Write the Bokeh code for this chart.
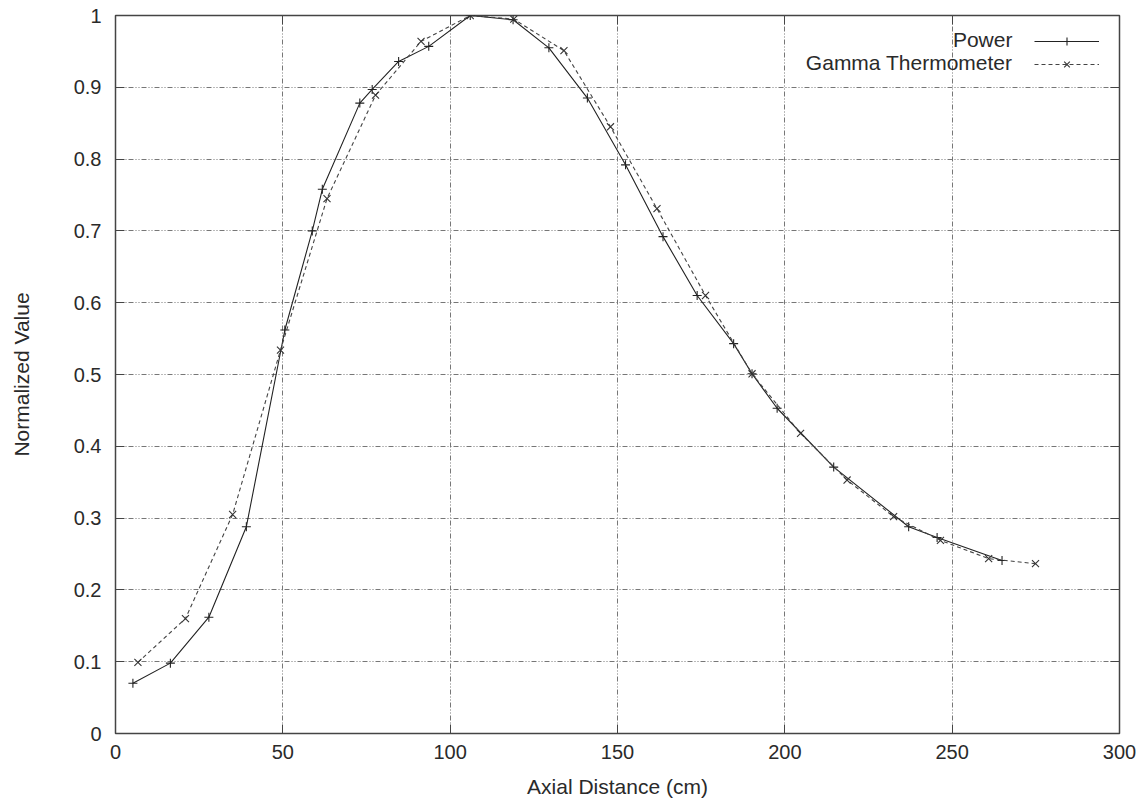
from bokeh.plotting import figure
from bokeh.models import (Range1d, FixedTicker, LinearAxis, Legend, LegendItem,
                          Label, CustomJSTickFormatter)
from bokeh.embed import file_html
from bokeh.resources import INLINE

# ---- data ----
power_x = [5.2, 16.4, 27.9, 39.1, 50.6, 58.8, 61.8, 73.0, 76.7, 84.6, 93.6, 106.0,
           118.8, 129.5, 141.0, 152.4, 163.6, 173.8, 184.7, 190.2, 197.7, 214.6,
           237.0, 245.5, 264.9]
power_y = [0.070, 0.098, 0.162, 0.288, 0.562, 0.700, 0.758, 0.878, 0.897, 0.936, 0.957, 1.000,
           0.994, 0.955, 0.885, 0.792, 0.692, 0.610, 0.543, 0.501, 0.453, 0.371,
           0.288, 0.273, 0.241]

gamma_x = [6.7, 20.9, 35.0, 49.3, 63.2, 77.7, 91.3, 106.0, 119.0, 134.0, 147.9, 161.8,
           176.3, 190.2, 204.7, 218.6, 232.5, 246.5, 260.9, 274.9]
gamma_y = [0.099, 0.160, 0.305, 0.534, 0.745, 0.889, 0.964, 1.000, 0.995, 0.951, 0.845, 0.731,
           0.610, 0.501, 0.418, 0.353, 0.302, 0.269, 0.2435, 0.2365]

x_ticks = [0, 50, 100, 150, 200, 250, 300]
y_ticks = [0, 0.1, 0.2, 0.3, 0.4, 0.5, 0.6, 0.7, 0.8, 0.9, 1]
y_tick_labels = {0: "0", 0.1: "0.1", 0.2: "0.2", 0.3: "0.3", 0.4: "0.4", 0.5: "0.5",
                 0.6: "0.6", 0.7: "0.7", 0.8: "0.8", 0.9: "0.9", 1: "1"}
series_names = ["Power", "Gamma Thermometer"]
x_label = "Axial Distance (cm)"
y_label = "Normalized Value"

FONT = "Liberation Sans"

p = figure(width=1146, height=805, output_backend="svg", toolbar_location=None,
           x_range=Range1d(0, 300), y_range=Range1d(0, 1),
           min_border_left=115, min_border_right=27, min_border_top=15, min_border_bottom=72,
           x_axis_label=x_label, y_axis_label=y_label)

p.outline_line_color = "#444444"
p.outline_line_width = 1.5
p.background_fill_color = "white"
p.border_fill_color = "white"

# axes
for ax in p.xaxis + p.yaxis:
    ax.major_tick_in = 9
    ax.major_tick_out = 0
    ax.minor_tick_line_color = None
    ax.axis_line_color = "#444444"
    ax.major_tick_line_color = "#444444"
    ax.major_label_text_font = FONT
    ax.major_label_text_font_size = "20px"
    ax.major_label_text_color = "#2a2a2a"
    ax.axis_label_text_font = FONT
    ax.axis_label_text_font_size = "21px"
    ax.axis_label_text_font_style = "normal"
    ax.axis_label_text_color = "#2a2a2a"

p.xaxis.ticker = FixedTicker(ticks=x_ticks)
p.yaxis.ticker = FixedTicker(ticks=y_ticks)
p.yaxis.major_label_overrides = y_tick_labels
p.xaxis.major_label_standoff = 11
p.xaxis.axis_label_standoff = 13
p.yaxis.major_label_standoff = 14
p.yaxis.axis_label_standoff = 38

# mirrored ticks (gnuplot style)
blank = CustomJSTickFormatter(code="return ''")
right_ax = LinearAxis(ticker=FixedTicker(ticks=y_ticks), formatter=blank,
                      major_tick_in=9, major_tick_out=0, minor_tick_line_color=None,
                      axis_line_color=None, major_tick_line_color="#444444",
                      major_label_standoff=0)
top_ax = LinearAxis(ticker=FixedTicker(ticks=x_ticks), formatter=blank,
                    major_tick_in=9, major_tick_out=0, minor_tick_line_color=None,
                    axis_line_color=None, major_tick_line_color="#444444",
                    major_label_standoff=0)
p.add_layout(right_ax, "right")
p.add_layout(top_ax, "above")

# grid
for g in p.xgrid + p.ygrid:
    g.grid_line_color = "#777777"
    g.grid_line_dash = "5 2 1 2 1 2"
    g.grid_line_width = 1
p.xgrid.ticker = FixedTicker(ticks=x_ticks)
p.ygrid.ticker = FixedTicker(ticks=y_ticks)

# series
pl = p.line(power_x, power_y, line_color="#222222", line_width=1.1)
ps = p.scatter(power_x, power_y, marker="cross", size=9, line_color="#222222", line_width=1.1)
gl = p.line(gamma_x, gamma_y, line_color="#444444", line_width=1.1, line_dash="4 3")
gs = p.scatter(gamma_x, gamma_y, marker="x", size=10, line_color="#333333", line_width=1.1)

legend = Legend(items=[LegendItem(label=" ", renderers=[pl, ps]),
                       LegendItem(label=" ", renderers=[gl, gs])],
                location="top_right", glyph_width=65, glyph_height=20, spacing=3,
                padding=10, margin=16, label_standoff=4, label_width=0,
                label_text_font_size="6px",
                border_line_color=None, background_fill_alpha=0)
p.add_layout(legend)

# gnuplot-style key text to the left of the samples
for name, yy in zip(series_names, [0.967, 0.935]):
    p.add_layout(Label(x=268, y=yy, text=name, text_align="right", text_baseline="middle",
                       text_font=FONT, text_font_size="21px", text_color="#2a2a2a"))

open("out.html", "w").write(file_html(p, INLINE))
